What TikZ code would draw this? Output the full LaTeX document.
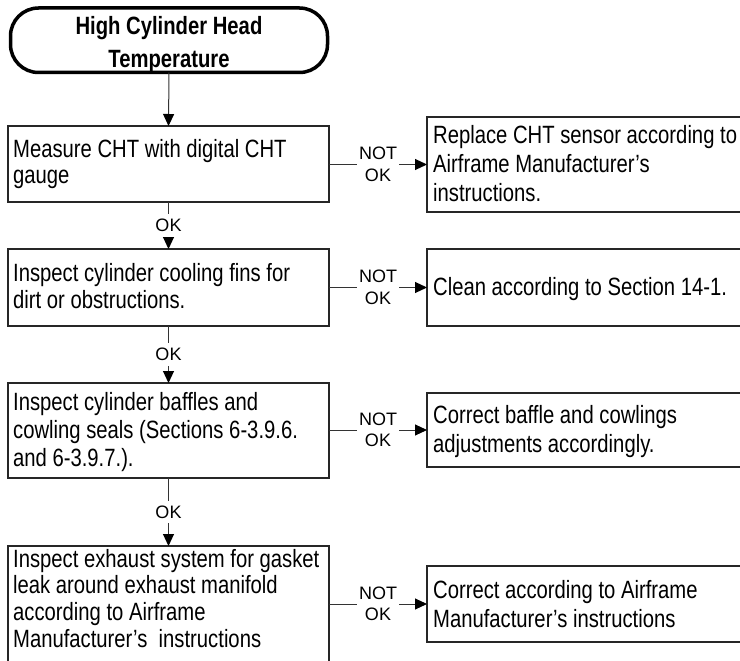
\documentclass[tikz,border=0pt]{standalone}
\usepackage{fontspec}
\usetikzlibrary{arrows.meta}
% condensed sans for the step texts, plain sans for the branch tags
\newfontfamily\narrowsans[FakeStretch=0.81]{Liberation Sans}
\newfontfamily\plainsans{Liberation Sans}

\begin{document}
\begin{tikzpicture}[x=1pt,y=-1pt,
  stepbox/.style={draw=black!85, line width=1.2pt, anchor=north west,
    inner sep=0pt, outer sep=0pt},
  startbox/.style={draw=black, line width=3.5pt, rounded corners=28pt,
    anchor=north west, inner sep=0pt, outer sep=0pt},
  % texts are placed by the baseline of their last line
  boxtext/.style={anchor=base west, align=left, inner sep=0pt},
  titletext/.style={anchor=base, align=center, inner sep=0pt,
    font=\narrowsans\bfseries\fontsize{25}{33}\selectfont},
  flow/.style={draw=black!80, line width=1pt,
    -{Triangle[length=12pt,width=11pt,color=black]}},
  tag/.style={fill=white, inner xsep=2pt, inner ysep=5pt, align=center,
    font=\plainsans\fontsize{18}{21.5}\selectfont},
]
\useasboundingbox (0,0) rectangle (740,661);

% start terminator
\node[startbox, minimum width=317pt, minimum height=64.5pt] (start) at (10.5,8) {};
\node[titletext] (title) at (169,68) {High Cylinder Head\\Temperature};

% checks on the left
\node[stepbox, minimum width=321pt, minimum height=76pt] (b1) at (8,126) {};
\node[boxtext, font=\narrowsans\fontsize{25}{26.5}\selectfont] (t1) at (13,183.5)
  {Measure CHT with digital CHT\\gauge};

\node[stepbox, minimum width=321pt, minimum height=77pt] (b2) at (8,249) {};
\node[boxtext, font=\narrowsans\fontsize{25}{27}\selectfont] (t2) at (13,308)
  {Inspect cylinder cooling fins for\\dirt or obstructions.};

\node[stepbox, minimum width=321pt, minimum height=95pt] (b3) at (8,383) {};
\node[boxtext, font=\narrowsans\fontsize{25}{28}\selectfont] (t3) at (13,466)
  {Inspect cylinder baffles and\\cowling seals (Sections 6-3.9.6.\\and 6-3.9.7.).};

\node[stepbox, minimum width=321pt, minimum height=140pt] (b4) at (8,546) {};
\node[boxtext, font=\narrowsans\fontsize{25}{26.8}\selectfont] (t4) at (13,647.4)
  {Inspect exhaust system for gasket\\leak around exhaust manifold\\according to Airframe\\Manufacturer’s~ instructions};

% remedies on the right
\node[stepbox, minimum width=330pt, minimum height=95pt] (r1) at (427,117) {};
\node[boxtext, font=\narrowsans\fontsize{25}{29}\selectfont] (u1) at (433,201)
  {Replace CHT sensor according to\\Airframe Manufacturer’s\\instructions.};

\node[stepbox, minimum width=330pt, minimum height=77pt] (r2) at (427,249) {};
\node[boxtext, font=\narrowsans\fontsize{25}{29}\selectfont] (u2) at (433,295)
  {Clean according to Section 14-1.};

\node[stepbox, minimum width=330pt, minimum height=74pt] (r3) at (427,393) {};
\node[boxtext, font=\narrowsans\fontsize{25}{29}\selectfont] (u3) at (433,452)
  {Correct baffle and cowlings\\adjustments accordingly.};

\node[stepbox, minimum width=330pt, minimum height=76pt] (r4) at (427,566) {};
\node[boxtext, font=\narrowsans\fontsize{25}{29}\selectfont] (u4) at (433,627)
  {Correct according to Airframe\\Manufacturer’s instructions};

% flow down the checks
\draw[flow] (start.south) -- (b1.north);
\draw[flow] (b1.south) -- node[tag] (ok1) {OK} (b2.north);
\draw[flow] (b2.south) -- node[tag] (ok2) {OK} (b3.north);
\draw[flow] (b3.south) -- node[tag] (ok3) {OK} (b4.north);

% branches to the remedies
\draw[flow] (b1.east |- r1.west) -- node[tag] (no1) {NOT\\OK} (r1.west);
\draw[flow] (b2.east |- r2.west) -- node[tag] (no2) {NOT\\OK} (r2.west);
\draw[flow] (b3.east |- r3.west) -- node[tag] (no3) {NOT\\OK} (r3.west);
\draw[flow] (b4.east |- r4.west) -- node[tag] (no4) {NOT\\OK} (r4.west);
\end{tikzpicture}
\end{document}
